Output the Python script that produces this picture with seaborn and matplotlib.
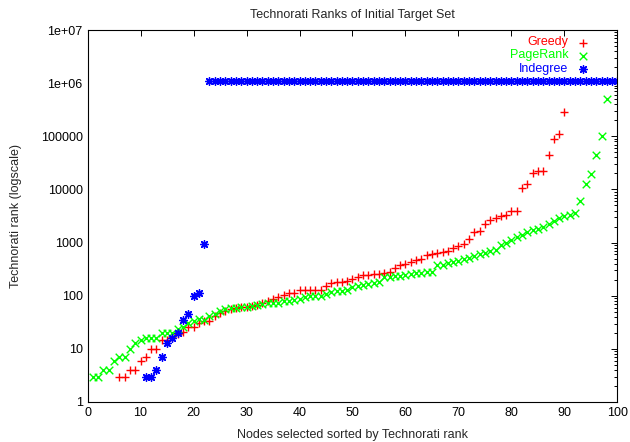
import matplotlib
matplotlib.use('Agg')
import matplotlib.pyplot as plt
import matplotlib.ticker as mticker
import pandas as pd
import seaborn as sns

# valores (rank no Technorati)
greedy_x = list(range(6, 91))
greedy_rank = [
    3, 3, 4, 4, 6, 7, 10, 10, 15, 15,
    17, 19, 21, 26, 26, 31, 34, 34, 42, 47,
    52, 56, 58, 62, 62, 65, 67, 72, 78, 85,
    96, 105, 115, 115, 126, 126, 126, 129, 129, 151,
    174, 178, 178, 191, 204, 229, 245, 245, 257, 257,
    263, 282, 331, 385, 398, 440, 468, 490, 589, 617,
    646, 676, 708, 776, 871, 955, 1148, 1549, 1622, 2239,
    2650, 2900, 3100, 3311, 4000, 4000, 10500, 12900, 20400, 21900,
    22500, 44600, 89000, 112000, 282000,
]

pagerank_x = list(range(1, 99))
pagerank_rank = [
    3, 3, 4, 4, 6, 7, 7, 10, 13, 15,
    16, 16, 16, 20, 20, 20, 24, 26, 31, 34,
    36, 35, 42, 45, 52, 56, 58, 60, 62, 62,
    64, 67, 69, 72, 74, 74, 78, 81, 84, 88,
    94, 98, 99, 100, 110, 120, 125, 125, 130, 145,
    150, 160, 165, 172, 178, 224, 226, 234, 234, 245,
    257, 269, 270, 282, 282, 380, 385, 417, 440, 460,
    490, 520, 560, 600, 650, 690, 720, 900, 1000, 1120,
    1260, 1400, 1550, 1700, 1800, 2000, 2200, 2500, 2900, 3100,
    3300, 3600, 6100, 12900, 19600, 44700, 100000, 510000,
]

indegree_x = list(range(11, 101))
indegree_rank = [3, 3, 4, 7, 13, 16, 20, 35, 45, 100, 115, 930] + [1.1e6] * 78

yticks = [1, 10, 100, 1000, 10000, 100000, 1e6, 1e7]
ytick_labels = ['1', '10', '100', '1000', '10000', '100000', '1e+06', '1e+07']

sns.set_style('white')
plt.rcParams['font.family'] = ['Liberation Sans', 'DejaVu Sans']
plt.rcParams['font.size'] = 9

fig = plt.figure(figsize=(6.3, 4.42), dpi=100)
ax = fig.add_axes([0.139, 0.0905, 0.841, 0.8415])

series = [
    ('Greedy', greedy_x, greedy_rank, '#ff0000', '+'),
    ('PageRank', pagerank_x, pagerank_rank, '#00ff00', 'x'),
    ('Indegree', indegree_x, indegree_rank, '#0000ff', (8, 2, 0)),
]

for nome, xs, ys, cor, marc in series:
    df = pd.DataFrame({'x': xs, 'rank': ys})
    sns.scatterplot(data=df, x='x', y='rank', ax=ax, color=cor, marker=marc,
                    s=30, linewidth=1.0, label=nome)

ax.set_yscale('log')
ax.set_xlim(0, 100)
ax.set_ylim(1, 1e7)
ax.set_xticks(range(0, 101, 10))
ax.set_yticks(yticks)
ax.set_yticklabels(ytick_labels)
ax.yaxis.set_minor_locator(mticker.LogLocator(base=10, subs=range(2, 10), numticks=20))
ax.yaxis.set_minor_formatter(mticker.NullFormatter())

ax.tick_params(which='both', direction='in', top=True, right=True, colors='black', labelsize=9)
ax.tick_params(which='major', length=4.5, width=0.7)
ax.tick_params(which='minor', length=2.5, width=0.7)
for sp in ax.spines.values():
    sp.set_color('black')
    sp.set_linewidth(0.8)

ax.set_title('Technorati Ranks of Initial Target Set', fontsize=9, pad=9)
ax.set_xlabel('Nodes selected sorted by Technorati rank', fontsize=9)
ax.set_ylabel('Technorati rank (logscale)', fontsize=9)
ax.xaxis.set_label_coords(0.5, -0.072)
ax.yaxis.set_label_coords(-0.123, 0.5)

leg = ax.legend(loc='upper right', bbox_to_anchor=(0.957, 1.0), frameon=False,
                markerfirst=False, scatterpoints=1, handlelength=0.8,
                handleheight=0.5, handletextpad=0.8, borderpad=0,
                labelspacing=0.09, fontsize=9,
                labelcolor=['#ff0000', '#00ff00', '#0000ff'])

fig.savefig('out.png', dpi=100)
